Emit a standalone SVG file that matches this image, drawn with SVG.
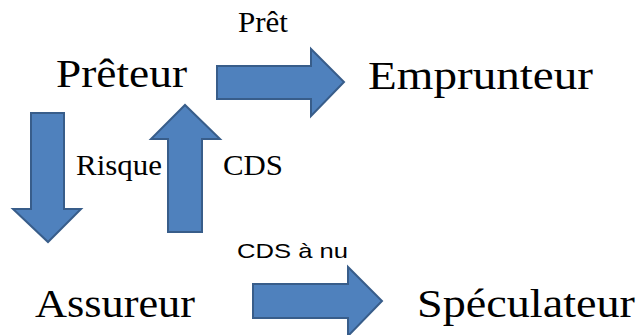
<svg xmlns="http://www.w3.org/2000/svg" width="637" height="335" viewBox="0 0 637 335">
<style>
.arrow{fill:#4F81BD;stroke:#385D8A;stroke-width:2;stroke-linejoin:miter}
.big{font-family:'Liberation Serif','Times New Roman','DejaVu Serif',serif;font-size:40px;fill:#000}
.mid{font-family:'Liberation Serif','Times New Roman','DejaVu Serif',serif;font-size:29px;fill:#000}
.sans{font-family:'Liberation Sans',Arial,sans-serif;font-size:21px;fill:#000}
</style>
<rect width="637" height="335" fill="#fff"/>
<g id="connectors">
<polygon id="arrow-pret" class="arrow" points="217,66 311,66 311,49 344,82 311,116 311,99 217,99"/>
<polygon id="arrow-risque" class="arrow" points="31,113 64,113 64,209 81,209 48,242 13,209 31,209"/>
<polygon id="arrow-cds" class="arrow" points="168,232 202,232 202,139 220,139 185,105 151,139 168,139"/>
<polygon id="arrow-cdsnu" class="arrow" points="253,284 348,284 348,267 382,301 348,336 348,318 253,318"/>
<text class="mid" x="238" y="32" textLength="50" lengthAdjust="spacingAndGlyphs">Prêt</text>
<text class="mid" x="76" y="175" textLength="86" lengthAdjust="spacingAndGlyphs">Risque</text>
<text class="mid" x="223" y="175" textLength="60" lengthAdjust="spacingAndGlyphs">CDS</text>
<text class="sans" x="237" y="258" textLength="111" lengthAdjust="spacingAndGlyphs">CDS à nu</text>
</g>
<g id="preteur"><text class="big" x="56" y="87" textLength="131" lengthAdjust="spacingAndGlyphs">Prêteur</text></g>
<g id="emprunteur"><text class="big" x="368" y="89" textLength="225" lengthAdjust="spacingAndGlyphs">Emprunteur</text></g>
<g id="assureur"><text class="big" x="35" y="317" textLength="160" lengthAdjust="spacingAndGlyphs">Assureur</text></g>
<g id="speculateur"><text class="big" x="417" y="317" textLength="218" lengthAdjust="spacingAndGlyphs">Spéculateur</text></g>
</svg>
